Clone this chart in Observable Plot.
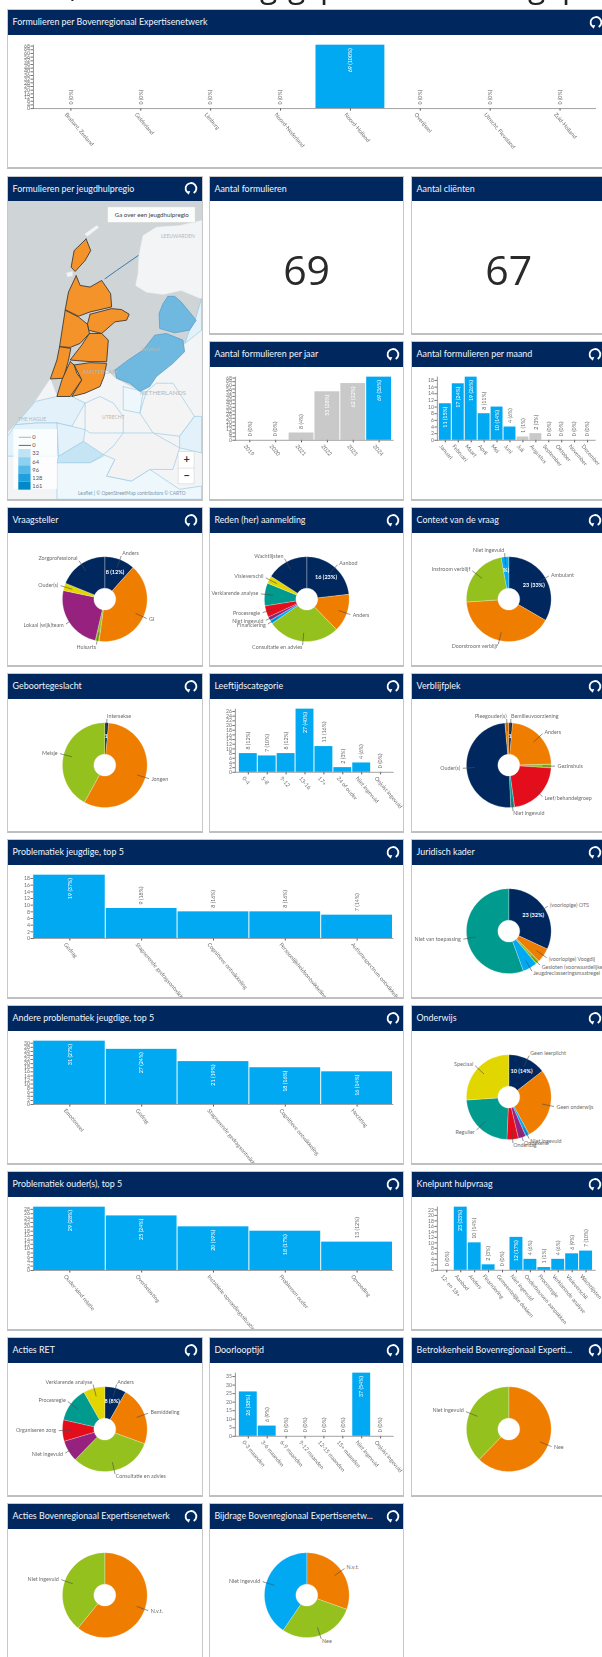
<!DOCTYPE html>
<html><head><meta charset="utf-8">
<script src="https://cdn.jsdelivr.net/npm/d3@7"></script>
<script src="https://cdn.jsdelivr.net/npm/@observablehq/plot@0.6"></script>
<style>
html,body{margin:0;padding:0;background:#fff;width:602px;height:1657px;overflow:hidden}
#page{position:relative;width:602px;height:1657px;overflow:hidden;filter:blur(.55px);font-family:Lato,"Open Sans",sans-serif}
.card{position:absolute;background:#fff;border:1px solid #c6c8ca;border-bottom:2px solid #bdbfc1;box-sizing:border-box;overflow:hidden}
.head{position:absolute;left:-1px;right:-1px;top:-1px;height:25.5px;background:#00285f;color:#f2f5fa;font-size:8.9px;line-height:25px;padding-left:5.6px;white-space:nowrap}
.head svg{position:absolute;right:4.5px;top:5.5px}
.body{position:absolute;left:-1px;top:24px}
.big{position:absolute;left:0;right:0;text-align:center;font-family:"Open Sans",sans-serif;font-weight:400;font-size:41px;color:#2a2a2a}
.scrap{position:absolute;top:-37px;font:32px "Open Sans",sans-serif;color:#222}
</style></head><body><div id="page"></div>
<script>
// ---------- palette ----------
const navy="#00285f",orange="#ef7d00",green="#95c11f",blue="#00a9f2",purple="#96217f",red="#e30d1b",teal="#009a8e",yellow="#e2d600",grey="#c9c9c9";

// ---------- bar charts ----------
const beNames=["Brabant, Zeeland","Gelderland","Limburg","Noord-Nederland","Noord-Holland","Overijssel","Utrecht, Flevoland","Zuid-Holland"];
const beValues=[0,0,0,0,69,0,0,0];
const beLabels=["0 (0%)","0 (0%)","0 (0%)","0 (0%)","69 (100%)","0 (0%)","0 (0%)","0 (0%)"];
const beTicks=d3.range(0,69,4);

const jaarNames=["2019","2020","2021","2022","2023","2024"];
const jaarValues=[0,0,8,53,62,69];
const jaarLabels=["0 (0%)","0 (0%)","8 (4%)","53 (28%)","62 (32%)","69 (36%)"];
const jaarColors=[grey,grey,grey,grey,grey,blue];
const jaarTicks=d3.range(0,69,4);

const maandNames=["Januari","Februari","Maart","April","Mei","Juni","Juli","Augustus","September","Oktober","November","December"];
const maandValues=[11,17,19,8,10,4,1,2,0,0,0,0];
const maandLabels=["11 (15%)","17 (24%)","19 (26%)","8 (11%)","10 (14%)","4 (6%)","1 (1%)","2 (3%)","0 (0%)","0 (0%)","0 (0%)","0 (0%)"];
const maandColors=[blue,blue,blue,blue,blue,blue,grey,grey,grey,grey,grey,grey];
const maandTicks=d3.range(0,19,2);

const leeftijdNames=["0-4","5-8","9-12","13-16","17+","24 of ouder","Niet ingevuld","Onjuist ingevuld"];
const leeftijdValues=[8,7,8,27,11,2,4,0];
const leeftijdLabels=["8 (12%)","7 (10%)","8 (12%)","27 (40%)","11 (16%)","2 (3%)","4 (6%)","0 (0%)"];
const leeftijdTicks=d3.range(0,28,2);

const probNames=["Gedrag","Stagnerende gedragsontwikkeling","Cognitieve ontwikkeling","Persoonlijkheidsontwikkeling en karakter","Autismespectrum ontwikkeling"];
const probValues=[19,9,8,8,7];
const probLabels=["19 (37%)","9 (18%)","8 (16%)","8 (16%)","7 (14%)"];
const probTicks=d3.range(0,19,2);

const andereNames=["Emotioneel","Gedrag","Stagnerende gedragsontwikkeling","Cognitieve ontwikkeling","Hechting"];
const andereValues=[31,27,21,18,16];
const andereLabels=["31 (27%)","27 (24%)","21 (19%)","18 (16%)","16 (14%)"];
const andereTicks=d3.range(0,32,2);

const ouderNames=["Ouder-kind relatie","Overbelasting","Instabiele opvoedingssituatie","Problemen ouder","Opvoeding"];
const ouderValues=[29,25,20,18,13];
const ouderLabels=["29 (28%)","25 (24%)","20 (19%)","18 (17%)","13 (12%)"];
const ouderTicks=d3.range(0,30,2);

const knelNames=["12- en 18+","Aanbod","Anders","Financiering","Gemeentelijke dekken","Niet ingevuld","Onderbouwen aanpakken","Procesregie","Verklarende analyse","Visieverschil","Wachtlijsten"];
const knelValues=[0,23,10,2,0,12,4,1,4,6,7];
const knelLabels=["0 (0%)","23 (33%)","10 (14%)","2 (3%)","0 (0%)","12 (17%)","4 (6%)","1 (1%)","4 (6%)","6 (9%)","7 (10%)"];
const knelTicks=d3.range(0,23,2);

const doorNames=["0-3 maanden","3-6 maanden","6-9 maanden","9-12 maanden","12-15 maanden","15+ maanden","Niet ingevuld","Onjuist ingevuld"];
const doorValues=[26,6,0,0,0,0,37,0];
const doorLabels=["26 (38%)","6 (9%)","0 (0%)","0 (0%)","0 (0%)","0 (0%)","37 (54%)","0 (0%)"];
const doorTicks=d3.range(0,36,5);

// ---------- pie charts ----------
const vraagNames=["Anders","GI","Huisarts","Lokaal (wijk)team","Ouder(s)","Zorgprofessional"];
const vraagValues=[8,28,1,17,2,13];
const vraagColors=[navy,orange,green,purple,yellow,navy];
const vraagInner=["8 (12%)"];

const redenNames=["Aanbod","Anders","Consultatie en advies","Financiering","Niet ingevuld","Procesregie","Verklarende analyse","Visieverschil","Wachtlijsten"];
const redenValues=[16,10,19,1,1,3,6,2,11];
const redenColors=[navy,orange,green,blue,purple,red,teal,yellow,navy];
const redenInner=["16 (23%)"];

const contextNames=["Ambulant","Doorstroom verblijf","Instroom verblijf","Niet ingevuld"];
const contextValues=[23,28,16,2];
const contextColors=[navy,orange,green,blue];
const contextInner=["23 (33%)","","","%)"];

const geslachtNames=["Intersekse","Jongen","Meisje"];
const geslachtValues=[1,39,29];
const geslachtColors=[navy,orange,green];
const geslachtInner=["1"];

const verblijfNames=["Bemilieuvoorziening","Anders","Gezinshuis","Leef/behandelgroep","Niet ingevuld","Ouder(s)","Pleegouder(s)"];
const verblijfValues=[1,16,1,15,1,34,1];
const verblijfColors=[navy,orange,green,red,teal,navy,orange];
const verblijfInner=["1"];

const juridischNames=["(voorlopige) OTS","(voorlopige) Voogdij","Gesloten (voorwaardelijke)","Jeugdreclasseringsmaatregel","Niet van toepassing"];
const juridischValues=[23,4,1,4,40];
const juridischColors=[navy,orange,green,blue,teal];
const juridischInner=["23 (32%)"];

const onderwijsNames=["Geen leerplicht","Geen onderwijs","Niet ingevuld","Onbekend","Onderdag","Regulier","Speciaal"];
const onderwijsValues=[10,19,1,2,3,16,18];
const onderwijsColors=[navy,orange,blue,purple,red,teal,yellow];
const onderwijsInner=["10 (14%)"];

const actiesNames=["Anders","Bemiddeling","Consultatie en advies","Niet ingevuld","Organiseren zorg","Procesregie","Verklarende analyse"];
const actiesValues=[8,22,31,8,8,13,8];
const actiesColors=[navy,orange,green,purple,red,teal,yellow];
const actiesInner=["8 (8%)"];

const betrokNames=["Nee","Niet ingevuld"];
const betrokValues=[43,26];
const betrokColors=[orange,green];

const actiesBNames=["N.v.t.","Niet ingevuld"];
const actiesBValues=[42,27];
const actiesBColors=[orange,green];

const bijdrageNames=["N.v.t.","Nee","Niet ingevuld"];
const bijdrageValues=[21,20,28];
const bijdrageColors=[orange,green,blue];

// ---------- map (geometry in map units) ----------
const mapLand=[
 {name:"Friesland",fill:"#f3f4f5",stroke:"#f3f4f5",pts:[[606,150],[540,165],[470,170],[430,195],[418,255],[415,310],[408,345],[440,365],[490,372],[545,360],[606,385]]},
 {name:"Zuid",fill:"#f3f4f5",stroke:"#f3f4f5",pts:[[150,628],[105,695],[60,750],[21,790],[21,990],[606,990],[606,480],[580,480],[556,520],[470,620],[420,665],[345,625],[320,600],[300,650],[215,680],[170,680]]},
 {name:"Oost",fill:"#e3f2fa",stroke:"#9ccbe6",pts:[[606,385],[590,440],[570,480],[556,520],[606,480]]},
 {name:"Vlieland",fill:"#f3f4f5",stroke:"#f3f4f5",pts:[[255,190],[290,165],[296,170],[262,196]]},
 {name:"Terschelling",fill:"#f3f4f5",stroke:"#f3f4f5",pts:[[200,308],[216,304],[216,316],[202,318]]},
 {name:"Rijnmond",fill:"#e3f2fa",stroke:"#9ccbe6",pts:[[170,680],[105,695],[45,765],[110,760],[170,760],[215,770],[255,700],[215,680]]},
 {name:"Hollands Midden",fill:"#e3f2fa",stroke:"#9ccbe6",pts:[[45,765],[21,800],[21,860],[170,860],[175,760],[110,760]]},
 {name:"Zeeland",fill:"#c5e4f4",stroke:"#9ccbe6",pts:[[175,860],[250,815],[310,855],[270,880],[170,880]]},
 {name:"Drechtsteden",fill:"#e3f2fa",stroke:"#9ccbe6",pts:[[170,760],[215,770],[255,780],[250,815],[175,860]]},
 {name:"Brabant",fill:"#edf7fc",stroke:"#9ccbe6",pts:[[170,880],[270,880],[310,860],[340,830],[345,870],[320,920],[395,935],[450,900],[540,960],[606,950],[606,990],[170,990]]},
 {name:"Utrecht",fill:"#f5f5f6",stroke:"#9ccbe6",pts:[[255,700],[300,680],[340,700],[370,740],[370,790],[270,790],[255,780]]},
 {name:"Gelderland",fill:"#f4f4f5",stroke:"#9ccbe6",pts:[[440,665],[470,640],[520,640],[585,740],[540,800],[460,790],[420,730]]},
 {name:"Achterhoek",fill:"#e3f2fa",stroke:"#9ccbe6",pts:[[585,740],[606,740],[606,850],[540,835],[540,800]]},
 {name:"Gooi",fill:"#eef7fc",stroke:"#9ccbe6",pts:[[370,650],[430,665],[420,730],[370,720]]},
 {name:"Midden-Brabant",fill:"#f3f3f4",stroke:"#9ccbe6",pts:[[310,855],[340,830],[370,790],[460,790],[540,835],[520,900],[450,900],[395,935],[320,920],[345,870]]}
];
const mapBlue=[
 {name:"Flevoland",pts:[[345,600],[385,570],[430,540],[465,495],[500,490],[550,510],[555,545],[520,580],[470,620],[450,650],[420,665],[390,640],[350,625]]},
 {name:"Noordoostpolder",pts:[[505,378],[525,378],[545,395],[590,450],[570,480],[525,488],[480,475],[478,430],[490,400]]}
];
const mapOrange=[
 {name:"Texel",pts:[[258,205],[272,240],[255,270],[225,303],[213,290],[222,240]]},
 {name:"Kop van Noord-Holland",pts:[[228,316],[240,345],[270,350],[305,330],[332,370],[335,410],[270,425],[235,438],[195,418],[205,365]]},
 {name:"West-Friesland",pts:[[270,432],[335,415],[365,418],[388,432],[380,450],[345,455],[305,490],[265,480],[262,462]]},
 {name:"Alkmaar",pts:[[195,420],[235,440],[262,462],[268,490],[240,520],[210,532],[178,530]]},
 {name:"Zaanstreek",pts:[[268,490],[305,490],[325,510],[320,575],[270,575],[210,570],[245,525]]},
 {name:"Kennemerland",pts:[[178,530],[212,535],[205,570],[190,625],[150,627],[170,570]]},
 {name:"Haarlemmermeer",pts:[[210,575],[222,585],[230,610],[245,630],[210,680],[170,680],[185,630]]},
 {name:"Amstelland",pts:[[222,585],[270,578],[320,580],[312,620],[300,650],[255,670],[215,680],[245,630]]}
];
const mapDike=[[315,325],[350,300],[415,255]];
const mapPlaces=[
 {name:"LEEUWARDEN",x:535,y:197,size:5},{name:"Lelystad",x:452,y:537,size:5},
 {name:"AMSTERDAM",x:300,y:606,size:5.5},{name:"NETHERLANDS",x:490,y:670,size:6.5},
 {name:"THE HAGUE",x:95,y:748,size:5},{name:"UTRECHT",x:340,y:742,size:5}
];
const legendLabels=["0","0","32","64","96","128","161"];
const legendColors=["#a9a9a9","#555555","#bfe3f5","#8ed0ef","#55b8e6","#1fa0dc","#0089c9"];
const mapTooltip="Ga over een jeugdhulpregio";
const mapAttribution="Leaflet | © OpenStreetMap contributors © CARTO";

// ---------- layout helpers ----------
const page=document.getElementById("page");
const colX=[7,208.8,411], colW=195.6;
const rowY=[9.3,175.7,341.4,507.3,673.3,839.3,1005.3,1171.3,1337.3,1503.3];
const icon='<svg width="14" height="14" viewBox="0 0 13 13"><path d="M4.3 11.4A5 5 0 1 1 9 11.2" fill="none" stroke="#fff" stroke-width="1.7"/><path d="M2.2 9.7L5.8 9.4 4.4 12.8Z" fill="#fff"/></svg>';
function card(col,row,title,wide,h,noIcon){
  const d=document.createElement("div");d.className="card";
  const w=wide?(wide===3?600:colX[col+wide-1]+colW-colX[col]):colW;
  d.style.cssText=`left:${colX[col]}px;top:${rowY[row]}px;width:${w}px;height:${h||159.5}px`;
  d.innerHTML=`<div class="head">${title}${noIcon?"":icon}</div><div class="body"></div>`;
  page.appendChild(d);
  return {body:d.querySelector(".body"),w,el:d};
}
const gray="#6d6d6d",fontFamily="Lato,'Open Sans',sans-serif";
function bars(c,names,values,labels,ticks,colors){
  const max=d3.max(values),n=names.length;
  const rows=names.map((name,i)=>({name,value:values[i],label:labels[i],fill:colors?colors[i]:blue,inside:values[i]/max>.49}));
  const step=(c.w-26-10)/n,p=1.3/step;
  c.body.appendChild(Plot.plot({
    width:c.w,height:134,marginLeft:26,marginRight:10,marginTop:10.7,marginBottom:59.8,
    style:{background:"transparent",fontFamily,overflow:"hidden"},
    x:{domain:names,paddingInner:p,paddingOuter:p/2,axis:null},
    y:{domain:[0,max],axis:null},
    color:{type:"identity"},
    marks:[
      Plot.barY(rows,{x:"name",y:"value",fill:"fill"}),
      Plot.axisY({ticks,tickSize:2.5,tickPadding:1,fontSize:5.2,label:null,color:"#707070"}),
      Plot.axisX({tickSize:2.5,tickFormat:()=>"",label:null,color:"#555"}),
      Plot.ruleY([0],{stroke:"#8a8a8a",strokeWidth:.8}),
      Plot.frame({anchor:"left",stroke:"#666",strokeWidth:.7}),
      Plot.text(rows,{x:"name",y:0,text:"name",rotate:50,textAnchor:"start",dx:-5,dy:5,fontSize:5.6,fill:gray}),
      Plot.text(rows.filter(d=>d.inside),{x:"name",y:"value",text:"label",rotate:-90,textAnchor:"end",dy:3,fontSize:5.4,fill:"#fff"}),
      Plot.text(rows.filter(d=>!d.inside),{x:"name",y:"value",text:"label",rotate:-90,textAnchor:"start",dy:-4,fontSize:5.4,fill:gray})
    ]
  }));
}
function pie(c,names,values,colors,inner){
  const W=c.w,H=134,R=42.6,r0=11,labelR=49;
  const arcs=d3.pie().sort(null)(values);
  const pts=[],labels=[],leaders=[];
  arcs.forEach((a,i)=>{
    const seg=Math.max(2,Math.ceil((a.endAngle-a.startAngle)/0.04));
    const path=[];
    for(let k=0;k<=seg;k++){const t=a.startAngle+(a.endAngle-a.startAngle)*k/seg;path.push([R*Math.sin(t),-R*Math.cos(t)]);}
    for(let k=seg;k>=0;k--){const t=a.startAngle+(a.endAngle-a.startAngle)*k/seg;path.push([r0*Math.sin(t),-r0*Math.cos(t)]);}
    path.push(path[0]);
    path.forEach(([x,y])=>pts.push({slice:names[i],x,y,fill:colors[i]}));
    const m=(a.startAngle+a.endAngle)/2,s=Math.sin(m),co=-Math.cos(m);
    labels.push({x:labelR*s,y:labelR*co,text:names[i],anchor:s>=0?"start":"end",
      ix:29*s,iy:29*co,inner:inner&&inner[i]||""});
    leaders.push({x1:.8*R*s,y1:.8*R*co,x2:1.09*R*s,y2:1.09*R*co});
  });
  c.body.appendChild(Plot.plot({
    width:W,height:H,margin:0,
    style:{background:"transparent",fontFamily,overflow:"hidden"},
    x:{domain:[-W/2,W/2],axis:null},y:{domain:[-H/2,H/2],reverse:true,axis:null},
    color:{type:"identity"},
    marks:[
      Plot.line(pts,{x:"x",y:"y",z:"slice",fill:"fill",stroke:"#fff",strokeWidth:.25,curve:"linear"}),
      Plot.link(leaders,{x1:"x1",y1:"y1",x2:"x2",y2:"y2",stroke:"#4a4a4a",strokeWidth:.6}),
      Plot.text(labels.filter(d=>d.anchor==="start"),{x:"x",y:"y",text:"text",textAnchor:"start",fontSize:5.4,fill:gray}),
      Plot.text(labels.filter(d=>d.anchor==="end"),{x:"x",y:"y",text:"text",textAnchor:"end",fontSize:5.4,fill:gray}),
      Plot.text(labels.filter(d=>d.inner),{x:"ix",y:"iy",text:"inner",fontSize:5.6,fontWeight:700,fill:"#fff"})
    ]
  }));
}
function map(c){
  const W=c.w,H=300;
  const flat=(list,fill,stroke,sw)=>list.flatMap(r=>[...r.pts,r.pts[0]].map(([x,y])=>({name:r.name,x,y,fill:r.fill||fill,stroke:r.stroke||stroke,sw})));
  const legendRows=legendLabels.map((label,i)=>({label,color:legendColors[i],i}));
  const rowTop=d=>803+d.i*24.5;
  c.body.appendChild(Plot.plot({
    width:W,height:H,margin:0,
    style:{background:"#cfd4d7",fontFamily,overflow:"hidden"},
    x:{domain:[21,21+W*3],axis:null},y:{domain:[92,92+H*3],reverse:true,axis:null},
    color:{type:"identity"},
    marks:[
      Plot.line(flat(mapLand),{x:"x",y:"y",z:"name",fill:"fill",stroke:"stroke",strokeWidth:.7}),
      Plot.line(mapDike,{x:"0",y:"1",stroke:"#2e6ea6",strokeWidth:.9}),
      Plot.line(flat(mapBlue,"#6fb8df","#4f9cc9"),{x:"x",y:"y",z:"name",fill:"fill",stroke:"stroke",strokeWidth:.7}),
      Plot.line(flat(mapOrange,"#f3932a","#3d3a36"),{x:"x",y:"y",z:"name",fill:"fill",stroke:"stroke",strokeWidth:.9}),
      Plot.text(mapPlaces,{x:"x",y:"y",text:"name",fontSize:"size",fill:"#b4b8bb"}),
      Plot.rect([{x1:40,x2:172,y1:780,y2:960}],{x1:"x1",x2:"x2",y1:"y1",y2:"y2",fill:"#fff",fillOpacity:.8}),
      Plot.rect(legendRows.slice(2),{x1:55,x2:92,y1:d=>rowTop(d)-12,y2:d=>rowTop(d)+12.5,fill:"color"}),
      Plot.link(legendRows.slice(0,2),{x1:55,x2:92,y1:rowTop,y2:rowTop,stroke:"color",strokeWidth:.9}),
      Plot.text(legendRows,{x:96,y:rowTop,text:"label",textAnchor:"start",fontSize:5.8,fill:"#555"}),
      Plot.rect([{x1:325,x2:588,y1:110,y2:156}],{x1:"x1",x2:"x2",y1:"y1",y2:"y2",fill:"#fff",fillOpacity:.92,stroke:"#ddd",strokeWidth:.4}),
      Plot.text([mapTooltip],{x:456,y:134,text:d=>d,fontSize:6.2,fill:"#444"}),
      Plot.rect([{x1:537,x2:585,y1:848,y2:945}],{x1:"x1",x2:"x2",y1:"y1",y2:"y2",fill:"#fff",stroke:"#ccc",strokeWidth:.5}),
      Plot.ruleY([896],{x1:537,x2:585,stroke:"#ccc",strokeWidth:.5}),
      Plot.text(["+"],{x:561,y:870,text:d=>d,fontSize:11,fontWeight:700,fill:"#333"}),
      Plot.text(["−"],{x:561,y:919,text:d=>d,fontSize:11,fontWeight:700,fill:"#333"}),
      Plot.text([mapAttribution],{x:396,y:973,text:d=>d,fontSize:4.9,fill:"#7d97ad"})
    ]
  }));
}

// ---------- dashboard ----------
[[",",70],["g",260],["g",288],["p",320],["g",528],["p",562]].forEach(([t,x])=>{
  const s=document.createElement("span");s.className="scrap";s.textContent=t;s.style.left=x+"px";page.appendChild(s);
});

bars(card(0,0,"Formulieren per Bovenregionaal Expertisenetwerk",3),beNames,beValues,beLabels,beTicks);
map(card(0,1,"Formulieren per jeugdhulpregio",0,325));
{const c=card(1,1,"Aantal formulieren",0,0,true);c.el.insertAdjacentHTML("beforeend",'<div class="big" style="top:64px">69</div>');}
{const c=card(2,1,"Aantal cliënten",0,0,true);c.el.insertAdjacentHTML("beforeend",'<div class="big" style="top:64px">67</div>');}
bars(card(1,2,"Aantal formulieren per jaar"),jaarNames,jaarValues,jaarLabels,jaarTicks,jaarColors);
bars(card(2,2,"Aantal formulieren per maand"),maandNames,maandValues,maandLabels,maandTicks,maandColors);
pie(card(0,3,"Vraagsteller"),vraagNames,vraagValues,vraagColors,vraagInner);
pie(card(1,3,"Reden (her) aanmelding"),redenNames,redenValues,redenColors,redenInner);
pie(card(2,3,"Context van de vraag"),contextNames,contextValues,contextColors,contextInner);
pie(card(0,4,"Geboortegeslacht"),geslachtNames,geslachtValues,geslachtColors,geslachtInner);
bars(card(1,4,"Leeftijdscategorie"),leeftijdNames,leeftijdValues,leeftijdLabels,leeftijdTicks);
pie(card(2,4,"Verblijfplek"),verblijfNames,verblijfValues,verblijfColors,verblijfInner);
bars(card(0,5,"Problematiek jeugdige, top 5",2),probNames,probValues,probLabels,probTicks);
pie(card(2,5,"Juridisch kader"),juridischNames,juridischValues,juridischColors,juridischInner);
bars(card(0,6,"Andere problematiek jeugdige, top 5",2),andereNames,andereValues,andereLabels,andereTicks);
pie(card(2,6,"Onderwijs"),onderwijsNames,onderwijsValues,onderwijsColors,onderwijsInner);
bars(card(0,7,"Problematiek ouder(s), top 5",2),ouderNames,ouderValues,ouderLabels,ouderTicks);
bars(card(2,7,"Knelpunt hulpvraag"),knelNames,knelValues,knelLabels,knelTicks);
pie(card(0,8,"Acties RET"),actiesNames,actiesValues,actiesColors,actiesInner);
bars(card(1,8,"Doorlooptijd"),doorNames,doorValues,doorLabels,doorTicks);
pie(card(2,8,"Betrokkenheid Bovenregionaal Experti..."),betrokNames,betrokValues,betrokColors);
pie(card(0,9,"Acties Bovenregionaal Expertisenetwerk"),actiesBNames,actiesBValues,actiesBColors);
pie(card(1,9,"Bijdrage Bovenregionaal Expertisenetw..."),bijdrageNames,bijdrageValues,bijdrageColors);
</script></body></html>
